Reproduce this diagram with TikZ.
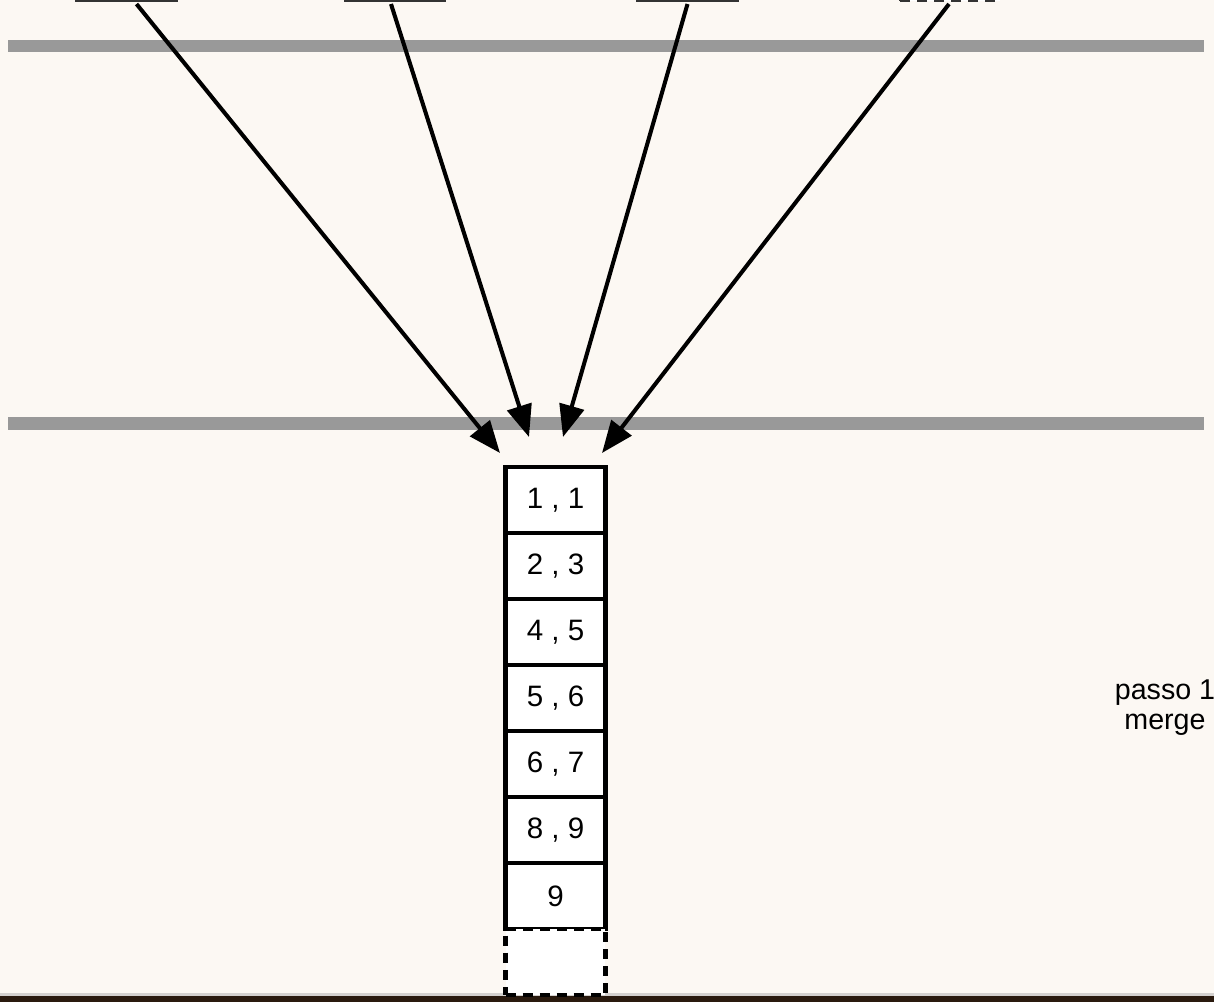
\documentclass[tikz,border=0pt]{standalone}
\usepackage{fontspec}
\setmainfont{Liberation Sans}
\usetikzlibrary{arrows.meta,positioning}
\definecolor{mgcream}{HTML}{FCF8F3}
\definecolor{mggray}{HTML}{999999}
\definecolor{mgbrown}{HTML}{2A1A0E}
\definecolor{mgedge}{HTML}{333333}

\begin{document}
\begin{tikzpicture}[x=0.02cm,y=-0.02cm,
  cell/.style={draw, line width=2.4pt, fill=white, minimum width=2.0cm,
    minimum height=1.32cm, inner sep=0pt, outer sep=0pt,
    font=\fontsize{16.8}{18}\selectfont},
  runbox/.style={draw=mgedge, line width=1.4pt, fill=white, minimum width=2.0cm,
    minimum height=1.32cm, inner sep=0pt, outer sep=0pt, anchor=south},
  gap/.style={dash pattern=on 5.7pt off 4pt},
  feed/.style={line width=2.3pt, -{Triangle[length=0.64cm, width=0.5cm]}},
  note/.style={align=center, font=\fontsize{16.3}{17}\selectfont}]
  \useasboundingbox (0,0) rectangle (1214,1002);
  \clip (0,0) rectangle (1214,1002);
  % background and bottom strip
  \fill[mgcream] (0,0) rectangle (1214,1002);
  \fill[white!80!mgbrown] (0,993) rectangle (1214,996);
  \fill[mgbrown] (0,996) rectangle (1214,1002);
  % gray bars
  \fill[mggray] (8,40) rectangle (1204,52);
  \fill[mggray] (8,417) rectangle (1204,430);
  % input runs (only their bottom edges show)
  \node[runbox] (top1) at (126.5,1) {};
  \node[runbox] (top2) at (395,1) {};
  \node[runbox] (top3) at (687.5,1) {};
  \node[runbox, gap] (top4) at (950,1) {};
  % merged output column
  \node[cell] (c1) at (555.5,500) {1 , 1};
  \node[cell, below=0pt of c1] (c2) {2 , 3};
  \node[cell, below=0pt of c2] (c3) {4 , 5};
  \node[cell, below=0pt of c3] (c4) {5 , 6};
  \node[cell, below=0pt of c4] (c5) {6 , 7};
  \node[cell, below=0pt of c5] (c6) {8 , 9};
  \node[cell, below=0pt of c6] (c7) {9};
  \node[cell, gap, below=0pt of c7] (c8) {};
  % arrow ends above the column
  \coordinate (in1) at (500,453);
  \coordinate (in2) at (529,437);
  \coordinate (in3) at (563,437);
  \coordinate (in4) at (602,453);
  \foreach \i/\dx in {1/10,2/-4,3/0,4/-1}{
    \draw[feed] ([xshift=\dx*0.02cm, yshift=-0.06cm]top\i.south) -- (in\i);
  }
  \node[note] (step) at (1165,708) {passo 1\\merge};
\end{tikzpicture}
\end{document}
